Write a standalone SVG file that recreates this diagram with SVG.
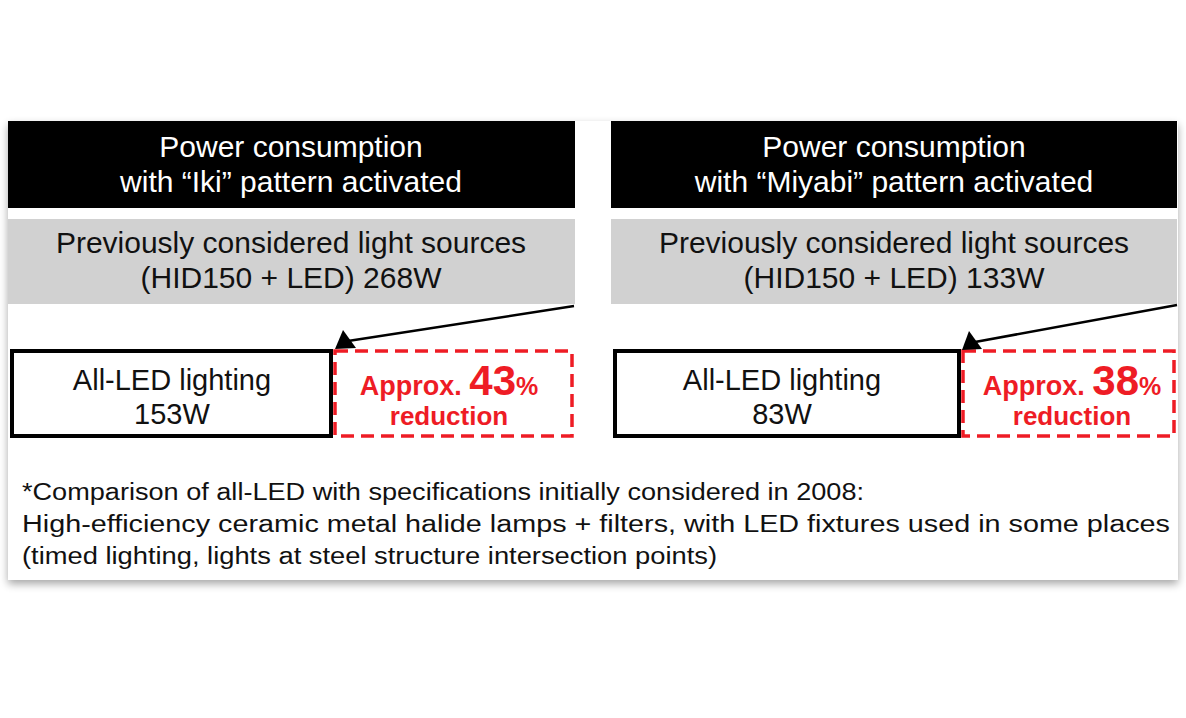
<svg xmlns="http://www.w3.org/2000/svg" width="1186" height="718" viewBox="0 0 1186 718">
<defs>
<filter id="sh" x="-5%" y="-5%" width="110%" height="115%">
<feGaussianBlur in="SourceAlpha" stdDeviation="4"/>
<feOffset dx="0" dy="4" result="b"/>
<feComponentTransfer><feFuncA type="linear" slope="0.35"/></feComponentTransfer>
<feMerge><feMergeNode/><feMergeNode in="SourceGraphic"/></feMerge>
</filter>
<style>
text{font-family:"Liberation Sans",Arial,Helvetica,sans-serif;text-anchor:middle}
.hd{fill:#000}
.hdt{fill:#fff;font-size:30px}
.gr{fill:#d1d1d1}
.grt{fill:#111;font-size:30px}
.led{fill:#fff;stroke:#000;stroke-width:4}
.ledt{fill:#111;font-size:29px}
.red{fill:#fff;stroke:#ee1c25;stroke-width:3.5;stroke-dasharray:13 7}
.rt{fill:#ee1c25;font-weight:bold;font-size:26px}
.ap{font-size:27px}
.big{font-size:42px}
.pc{font-size:25px}
.arr{stroke:#000;stroke-width:2.5;fill:none}
.ah{fill:#000}
.fn{fill:#111;font-size:23px;text-anchor:start}
</style>
</defs>
<rect width="1186" height="718" fill="#fff"/>
<rect id="card" x="8" y="121" width="1170" height="459" fill="#fff" filter="url(#sh)"/>

<g id="left-header">
<rect class="hd" x="8" y="121" width="567" height="87"/>
<text class="hdt" x="291" y="157">Power consumption</text>
<text class="hdt" x="291" y="192">with “Iki” pattern activated</text>
</g>
<g id="left-previous">
<rect class="gr" x="8" y="219" width="567" height="85"/>
<text class="grt" x="291" y="253">Previously considered light sources</text>
<text class="grt" x="291" y="288">(HID150 + LED) 268W</text>
</g>
<g id="left-led">
<rect class="led" x="12" y="351" width="319" height="85"/>
<text class="ledt" x="172" y="390">All-LED lighting</text>
<text class="ledt" x="172" y="424">153W</text>
</g>
<g id="left-reduction">
<rect class="red" x="335" y="351" width="237" height="85"/>
<text class="rt ap" x="449" y="395">Approx. <tspan class="big">43</tspan><tspan class="pc">%</tspan></text>
<text class="rt" x="449" y="425">reduction</text>
</g>

<g id="right-header">
<rect class="hd" x="611" y="121" width="566" height="87"/>
<text class="hdt" x="894" y="157">Power consumption</text>
<text class="hdt" x="894" y="192">with “Miyabi” pattern activated</text>
</g>
<g id="right-previous">
<rect class="gr" x="611" y="219" width="566" height="85"/>
<text class="grt" x="894" y="253">Previously considered light sources</text>
<text class="grt" x="894" y="288">(HID150 + LED) 133W</text>
</g>
<g id="right-led">
<rect class="led" x="615" y="351" width="344" height="85"/>
<text class="ledt" x="782" y="390">All-LED lighting</text>
<text class="ledt" x="782" y="424">83W</text>
</g>
<g id="right-reduction">
<rect class="red" x="963" y="351" width="211" height="85"/>
<text class="rt ap" x="1072" y="395">Approx. <tspan class="big">38</tspan><tspan class="pc">%</tspan></text>
<text class="rt" x="1072" y="425">reduction</text>
</g>

<g id="connectors">
<line class="arr" x1="574" y1="306" x2="348" y2="341"/>
<polygon class="ah" points="335,349 343,330 356,348"/>
<line class="arr" x1="1177" y1="305" x2="975" y2="342"/>
<polygon class="ah" points="962,350 969,331 982,349"/>
</g>

<g id="footnote">
<text class="fn" x="22" y="500" textLength="842" lengthAdjust="spacingAndGlyphs">*Comparison of all-LED with specifications initially considered in 2008:</text>
<text class="fn" x="22" y="532" textLength="1148" lengthAdjust="spacingAndGlyphs">High-efficiency ceramic metal halide lamps + filters, with LED fixtures used in some places</text>
<text class="fn" x="22" y="564" textLength="695" lengthAdjust="spacingAndGlyphs">(timed lighting, lights at steel structure intersection points)</text>
</g>
</svg>
